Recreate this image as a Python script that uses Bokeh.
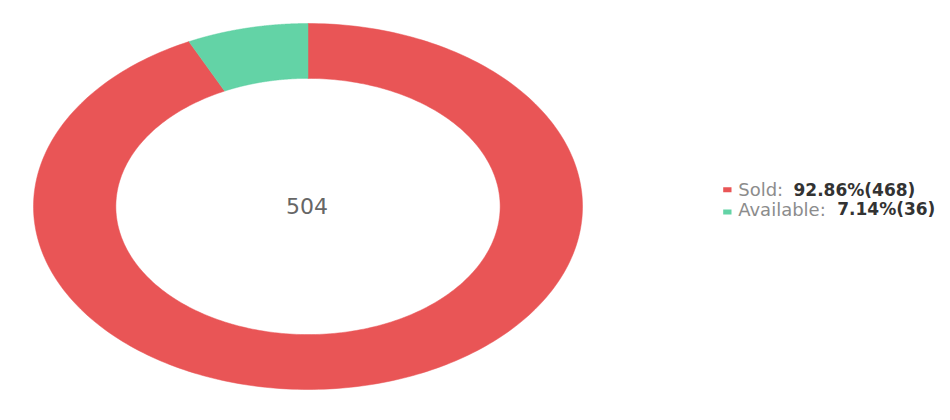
import numpy as np
from bokeh.plotting import figure
from bokeh.models import Range1d
from bokeh.core.properties import value
from bokeh.embed import file_html
from bokeh.resources import INLINE

# ---- data ----
categories = ["Sold", "Available"]
counts = [468, 36]
colors = ["#E95556", "#63D3A6"]

total = sum(counts)

# ---- layout (pixel-like data space) ----
W, H = 942, 412
cx, cy = 307.5, 206.0          # donut centre
rx_out, ry_out = 274.5, 183.0  # outer ellipse radii
inner_ratio = 0.70

p = figure(width=W, height=H, output_backend="svg", toolbar_location=None,
           x_range=Range1d(0, W), y_range=Range1d(H, 0),
           x_axis_location=None, y_axis_location=None, min_border=0,
           background_fill_color="white", border_fill_color="white")
p.outline_line_color = None
p.grid.visible = False

# slices: start at top, go clockwise
xs, ys = [], []
start = np.pi / 2
for c in counts:
    sweep = 2 * np.pi * c / total
    t = np.linspace(start, start - sweep, 300)
    ox = cx + rx_out * np.cos(t)
    oy = cy - ry_out * np.sin(t)
    ix = cx + rx_out * inner_ratio * np.cos(t[::-1])
    iy = cy - ry_out * inner_ratio * np.sin(t[::-1])
    xs.append(list(np.concatenate([ox, ix])))
    ys.append(list(np.concatenate([oy, iy])))
    start -= sweep

p.patches(xs, ys, fill_color=colors, line_color=colors, line_width=0.5)

# centre total
p.text(x=[cx - 1], y=[205.5], text=[str(total)], text_align="center",
       text_baseline="middle", text_color="#666666",
       text_font=value("DejaVu Sans"), text_font_size="22px")

# legend
row_mid = [189.0, 208.5]
sq_top = [186.7, 209.0]
bold_x = [793.0, 836.7]
label_x = 737.7
for i, (cat, cnt, col) in enumerate(zip(categories, counts, colors)):
    pct = 100.0 * cnt / total
    ym = row_mid[i]
    p.quad(left=[722.7], right=[731.0], top=[sq_top[i]], bottom=[sq_top[i] + 5.0],
           fill_color=col, line_color=None)
    p.text(x=[label_x], y=[ym], text=[f"{cat}:"], text_align="left",
           text_baseline="middle", text_color="#8c8c8c",
           text_font=value("DejaVu Sans"), text_font_size="18px")
    p.text(x=[bold_x[i]], y=[ym], text=[f"{pct:.2f}%({cnt})"], text_align="left",
           text_baseline="middle", text_color="#333333",
           text_font=value("DejaVu Sans"), text_font_size="17px",
           text_font_style="bold")

open("out.html", "w").write(file_html(p, INLINE))
